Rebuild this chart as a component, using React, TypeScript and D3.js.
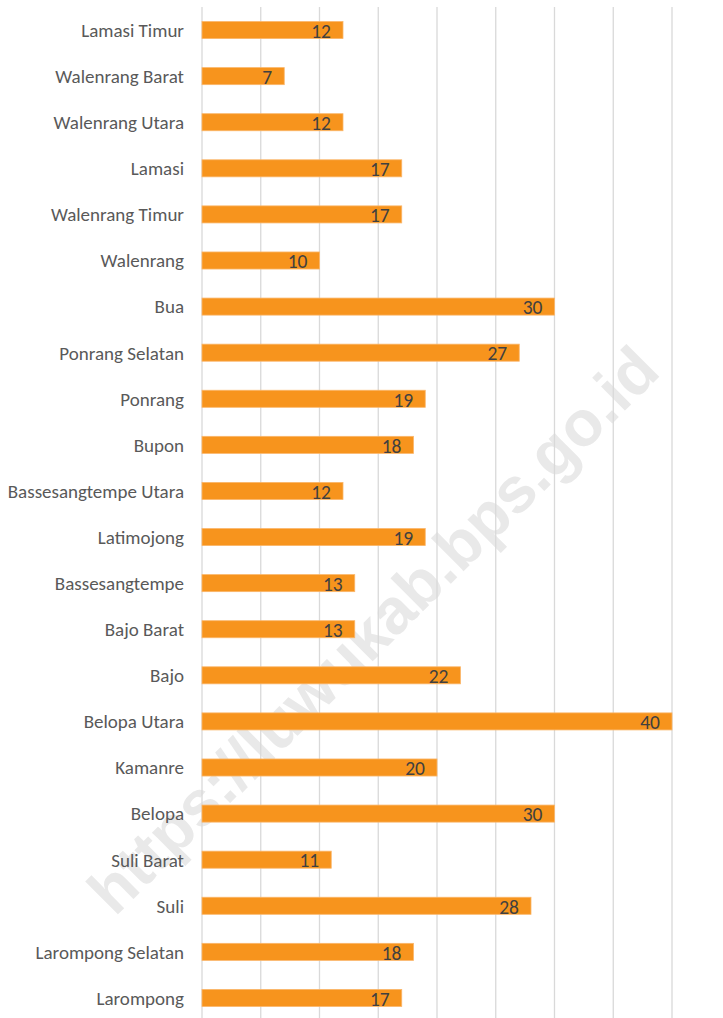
import React from "react";
import * as d3 from "d3";

const categories = [
  "Lamasi Timur", "Walenrang Barat", "Walenrang Utara", "Lamasi", "Walenrang Timur",
  "Walenrang", "Bua", "Ponrang Selatan", "Ponrang", "Bupon", "Bassesangtempe Utara",
  "Latimojong", "Bassesangtempe", "Bajo Barat", "Bajo", "Belopa Utara", "Kamanre",
  "Belopa", "Suli Barat", "Suli", "Larompong Selatan", "Larompong",
];
const values = [12, 7, 12, 17, 17, 10, 30, 27, 19, 18, 12, 19, 13, 13, 22, 40, 20, 30, 11, 28, 18, 17];
const ticks = [0, 5, 10, 15, 20, 25, 30, 35, 40];

const W = 723;
const H = 1018;

export default function App() {
  const x = d3.scaleLinear().domain([0, 40]).range([202, 672]);
  const y = d3.scaleBand<string>().domain(categories).range([7, 1021]).paddingInner(0.63).paddingOuter(0.315);
  const font = "Carlito, Lato, sans-serif";
  return (
    <svg width={W} height={H} style={{ position: "absolute", left: 0, top: 0, background: "#fff" }}>
      <text
        x={0}
        y={0}
        transform={`translate(373,630) rotate(-44.8)`}
        textAnchor="middle"
        dominantBaseline="central"
        fontFamily="Liberation Sans, Arial, sans-serif"
        fontWeight="bold"
        fontSize={64}
        fill="#e9e9e9"
      >
        https://luwukab.bps.go.id
      </text>
      {ticks.map((t) => (
        <line key={t} x1={x(t)} x2={x(t)} y1={7} y2={H} stroke="#d9d9d9" strokeWidth={1.3} />
      ))}
      {categories.map((c, i) => {
        const yy = y(c)!;
        const bw = y.bandwidth();
        return (
          <g key={c}>
            <rect x={x(0)} y={yy} width={x(values[i]) - x(0)} height={bw} fill="#F7941D" stroke="#FAB66A" strokeWidth={0.8} />
            <text x={184} y={yy + bw / 2} dy="0.36em" textAnchor="end" fontFamily={font} fontSize={19} fill="#595959">
              {c}
            </text>
            <text x={x(values[i]) - 12} y={yy + bw / 2} dy="0.4em" textAnchor="end" fontFamily={font} fontSize={19.5} fill="#404040">
              {values[i]}
            </text>
          </g>
        );
      })}
    </svg>
  );
}
